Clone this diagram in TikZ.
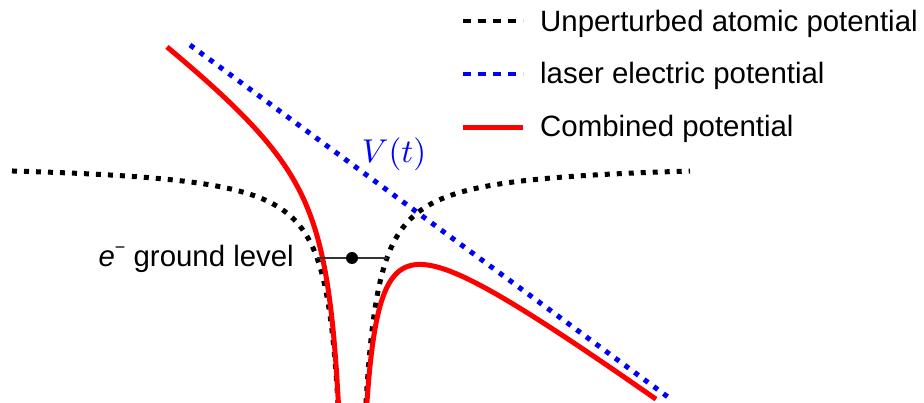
\documentclass[tikz,border=0pt]{standalone}
\usepackage{graphicx}
\usepackage[no-math]{fontspec}
\setmainfont{Liberation Sans}
\begin{document}
\begin{tikzpicture}[x=1pt,y=-1pt,
  dotline/.style={line width=5pt,dash pattern=on 5pt off 7pt},
  legdash/.style={line width=4.5pt,dash pattern=on 8pt off 7pt},
  combined/.style={red,line width=5pt},
  lbl/.style={inner sep=0pt,font=\fontsize{29.4}{34}\selectfont}]
\useasboundingbox (0,0) rectangle (924,403);
\clip (0,0) rectangle (924,403);
% atomic potential
\draw[dotline,black] plot[domain=12:338,samples=300] (\x,{161+3390/(352-\x)});
\draw[dotline,black] plot[domain=366:690,samples=300] (\x,{161+3390/(\x-352)});
% laser potential
\draw[dotline,blue] (190,45) -- (672,400);
% combined
\draw[combined] plot[domain=167:339.2,samples=300] (\x,{47+0.735*(\x-192)+3390/(352-\x)});
\draw[combined] plot[domain=366:656,samples=300] (\x,{47+0.735*(\x-192)+3390/(\x-352)});
% ground level
\coordinate (gl) at (317,258);
\coordinate (gr) at (387,258);
\node[circle,fill=black,inner sep=0pt,minimum size=12pt] (dot) at (352,258) {};
\draw[line width=1.5pt,black!80] (gl) -- (dot) -- (gr);
\node[lbl,anchor=base east] (glabel) at (294,267) {\textit{e}\raisebox{0.45em}{\fontsize{18}{20}\selectfont\textminus}\ ground level};
% V(t)
\node[inner sep=0pt,blue,anchor=base] (vt) at (394,163) {\scalebox{3.3}{$V(t)$}};
% legend
\coordinate (l1a) at (463,21); \coordinate (l1b) at (523,21);
\coordinate (l2a) at (463,74); \coordinate (l2b) at (523,74);
\coordinate (l3a) at (463,128); \coordinate (l3b) at (523,128);
\draw[legdash,black] (l1a) -- (l1b);
\draw[legdash,blue] (l2a) -- (l2b);
\draw[combined] (l3a) -- (l3b);
\node[lbl,anchor=base west] (t1) at (540,32) {Unperturbed atomic potential};
\node[lbl,anchor=base west] (t2) at (540,84) {laser electric potential};
\node[lbl,anchor=base west] (t3) at (540,137) {Combined potential};
\end{tikzpicture}
\end{document}
